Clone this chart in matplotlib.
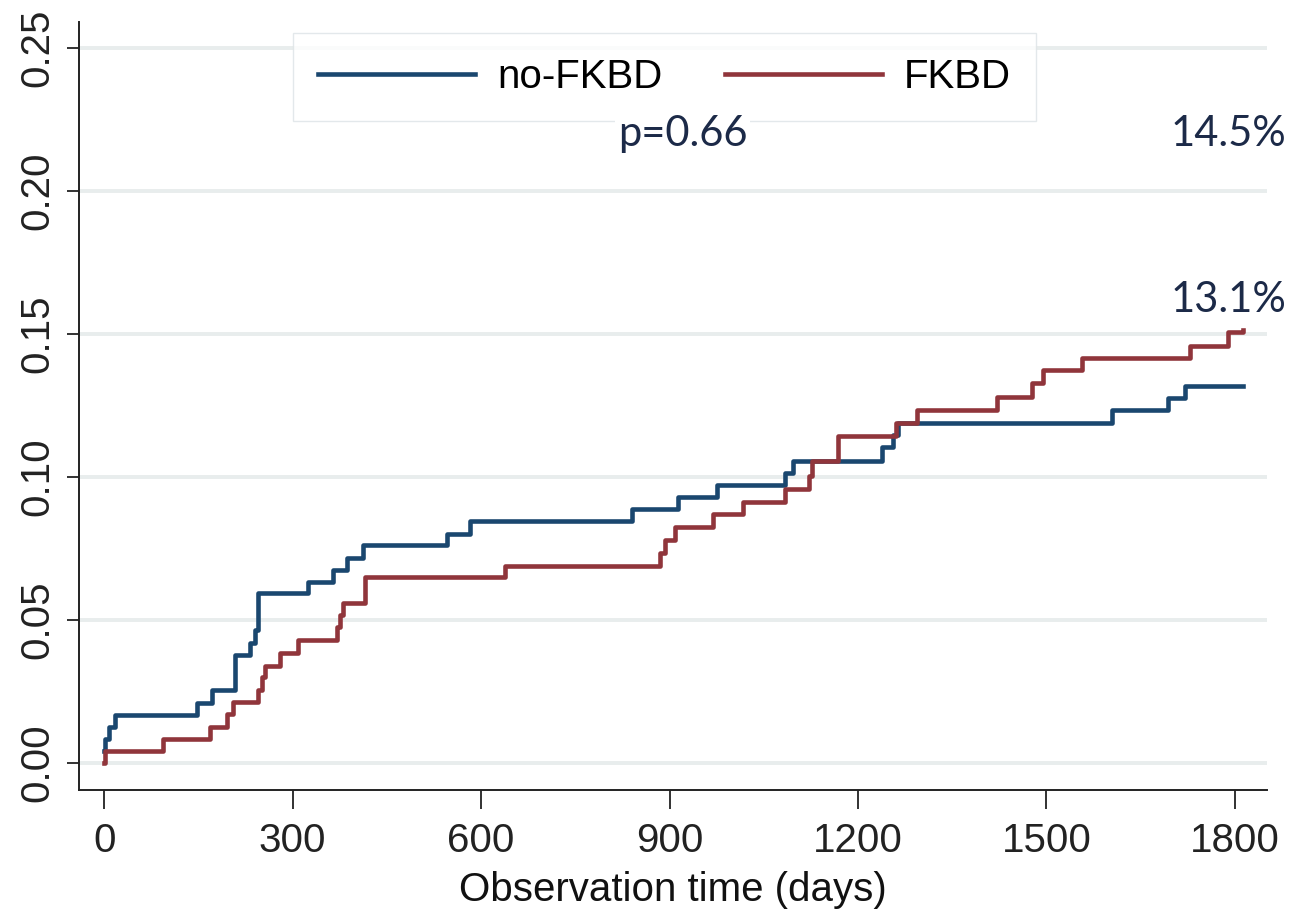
import matplotlib
matplotlib.use("Agg")
import matplotlib.pyplot as plt
from matplotlib import font_manager

# cumulative incidence (days, proportion)
nofkbd_days = [0, 2, 8, 18, 148, 172, 208, 232, 240, 245, 325, 364, 387, 412,
               546, 583, 840, 914, 975, 1084, 1097, 1238, 1256, 1264, 1604,
               1693, 1720, 1813]
nofkbd_ci = [0.0042, 0.0084, 0.0126, 0.0168, 0.021, 0.0255, 0.0378, 0.042,
             0.0465, 0.0594, 0.0633, 0.0675, 0.0717, 0.0762, 0.080, 0.0846,
             0.0888, 0.093, 0.0972, 0.1014, 0.1056, 0.1105, 0.1147, 0.119,
             0.1234, 0.1276, 0.132, 0.132]

fkbd_days = [0, 1, 94, 169, 196, 205, 245, 251, 256, 280, 309, 371, 376, 380,
             415, 638, 885, 893, 909, 969, 1017, 1084, 1122, 1126, 1168, 1260,
             1294, 1421, 1477, 1495, 1557, 1729, 1789, 1813]
fkbd_ci = [0.0, 0.0042, 0.0084, 0.0126, 0.0171, 0.0213, 0.0255, 0.030, 0.034,
           0.0385, 0.043, 0.0476, 0.0517, 0.056, 0.065, 0.069, 0.0735, 0.078,
           0.0825, 0.087, 0.0913, 0.0958, 0.1005, 0.1056, 0.1143, 0.119,
           0.1234, 0.128, 0.1329, 0.1374, 0.1416, 0.146, 0.1507, 0.1514]

x_ticks = [0, 300, 600, 900, 1200, 1500, 1800]
y_ticks = [0.00, 0.05, 0.10, 0.15, 0.20, 0.25]
series_names = ["no-FKBD", "FKBD"]
p_label = "p=0.66"
end_labels = ["14.5%", "13.1%"]

# fonts
names = {f.name for f in font_manager.fontManager.ttflist}
stata_font = "Liberation Sans Narrow" if "Liberation Sans Narrow" in names else "Liberation Sans"
note_font = "Lato"
fs = 29

navy = "#1a476f"
maroon = "#90353b"
note_col = "#1c2a48"
grid_col = "#e8eded"

W, H = 1297, 923
fig = plt.figure(figsize=(W / 100, H / 100), dpi=100)
ax = fig.add_axes([79 / W, 1 - 790 / H, (1267 - 79) / W, (790 - 22) / H])

ax.step(nofkbd_days, nofkbd_ci, where="post", color=navy, lw=3.3, label=series_names[0])
ax.step(fkbd_days, fkbd_ci, where="post", color=maroon, lw=3.3, label=series_names[1])

ax.set_xlim(-40, 1851)
ax.set_ylim(-0.0094, 0.2591)
ax.set_xticks(x_ticks)
ax.set_yticks(y_ticks)
ax.set_xticklabels([str(t) for t in x_ticks], fontfamily=stata_font, fontsize=fs)
ax.set_yticklabels([f"{v:.2f}" for v in y_ticks], fontfamily=stata_font, fontsize=fs,
                   rotation=90, va="center")
ax.tick_params(axis="x", length=14, width=1.3, pad=9, colors="#222222")
ax.tick_params(axis="y", length=9, width=1.3, pad=7, colors="#222222")
ax.set_xlabel("Observation time (days)", fontfamily=stata_font, fontsize=fs,
              labelpad=8, color="#111111")

ax.grid(axis="y", color=grid_col, lw=2.8)
ax.set_axisbelow(True)
for s in ["top", "right"]:
    ax.spines[s].set_visible(False)
for s in ["left", "bottom"]:
    ax.spines[s].set_linewidth(1.4)
    ax.spines[s].set_color("#222222")

leg = ax.legend(loc="upper left", bbox_to_anchor=(293 / W, 1 - 33 / H),
                bbox_transform=fig.transFigure, ncol=2, frameon=True,
                fancybox=False, edgecolor="#dde3e6",
                prop={"family": stata_font, "size": fs},
                handlelength=3.9, handletextpad=0.55, columnspacing=1.55,
                borderpad=0.62, borderaxespad=0)
leg.get_frame().set_linewidth(1.0)
leg.set_zorder(5)

# pasted-on annotations (p value sits in a white box over the legend edge)
ax.text(921, 0.220, p_label, fontfamily=note_font, fontsize=30, color=note_col,
        ha="center", va="center", zorder=10,
        bbox=dict(facecolor="white", edgecolor="none", pad=2))
ax.text(1790, 0.220, end_labels[0], fontfamily=note_font, fontsize=30, color=note_col,
        ha="center", va="center", clip_on=False, zorder=10)
ax.text(1790, 0.162, end_labels[1], fontfamily=note_font, fontsize=30, color=note_col,
        ha="center", va="center", clip_on=False, zorder=10)

fig.savefig("out.png", dpi=100)
